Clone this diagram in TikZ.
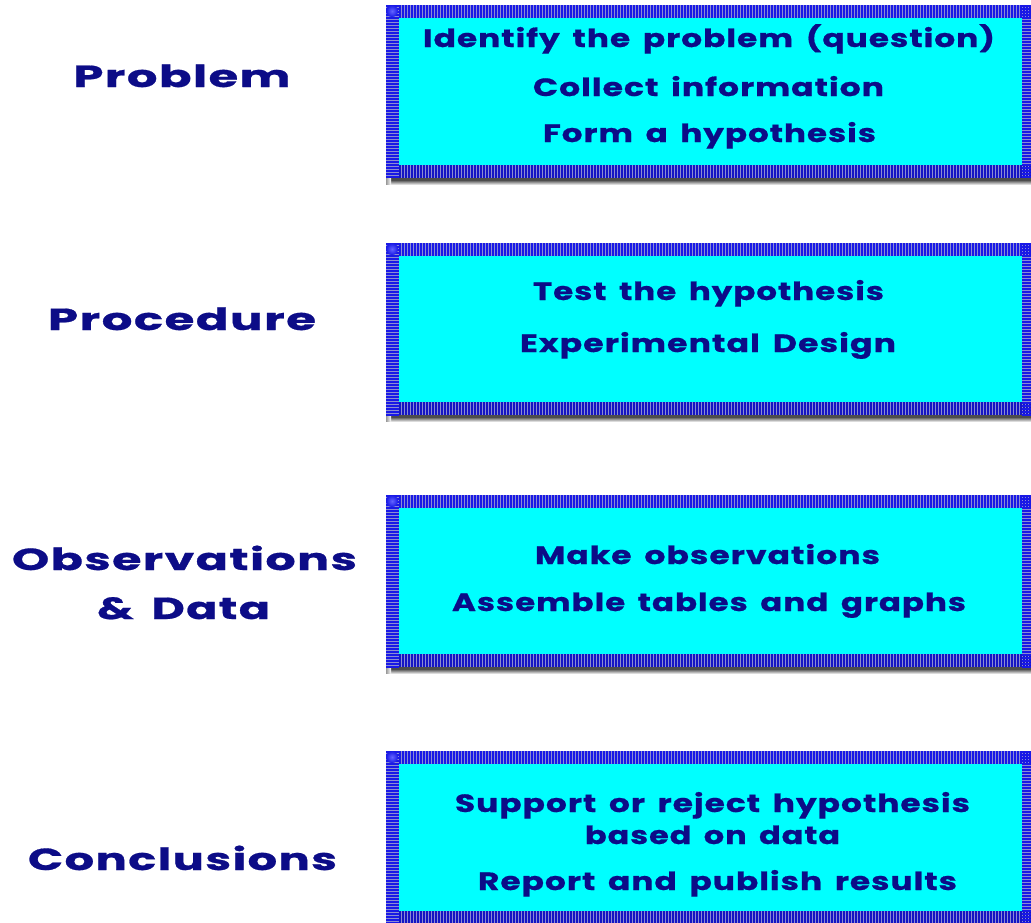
\documentclass[tikz,border=0pt]{standalone}
\usepackage{fontspec}
\usepackage{graphicx}
\setmainfont{Poppins}[LetterSpace=3,WordSpace=1.6,BoldFeatures={FakeBold=0.6}]
\definecolor{navy}{RGB}{12,12,135}
\definecolor{cyanbox}{RGB}{0,255,255}
\definecolor{stripeA}{RGB}{25,25,230}
\definecolor{stripeB}{RGB}{140,140,210}
\definecolor{hilite}{RGB}{100,100,255}
\newcommand{\fitw}[2]{\resizebox{#1}{\height}{#2}}
\newcommand{\stripebox}[2]{%
  \fill[black!70] (389,#2) rectangle (1031,#2+2);
  \shade[top color=black!70, bottom color=white] (389,#2+2) rectangle (1031,#2+7);
  \shade[left color=black!40, right color=white] (386,#2-2) rectangle (391,#2+6);
  \fill[stripeB] (386,#1) rectangle (1034,#2);
  \fill[cyanbox] (399,#1+13) rectangle (1022,#2-13);
  \foreach \x in {400,403,...,1033} {
    \draw[stripeA,line width=1.25pt] (\x,#1) -- (\x,#1+13);
    \draw[stripeA!85!black,line width=1.25pt] (\x,#2-13) -- (\x,#2);
  }
  \foreach \i in {0,...,57} {
    \draw[stripeA,line width=1.25pt] (386,#1+1+\i*3) -- (399,#1+1+\i*3);
    \draw[stripeA,line width=1.25pt] (1022,#1+1+\i*3) -- (1034,#1+1+\i*3);
  }
  \shade[inner color=hilite, outer color=stripeA] (392,#1+6) circle (6);
}
\tikzset{
  lbl/.style={font=\fontsize{30.5}{32}\selectfont\bfseries, text=navy, inner sep=0pt, anchor=base},
  txt/.style={font=\fontsize{25}{27}\selectfont\bfseries, text=navy, inner sep=0pt, anchor=base},
}
\begin{document}
\begin{tikzpicture}[x=1pt,y=-1pt]
\useasboundingbox (0,0) rectangle (1031,922);
\clip (0,0) rectangle (1031,922);
\fill[white] (0,0) rectangle (1031,922);

\stripebox{5}{178}
\stripebox{243}{415}
\stripebox{495}{667}
\stripebox{751}{924}

% left labels
\node[lbl] (lproblem) at (182,87) {\fitw{217pt}{Problem}};
\node[lbl] (lprocedure) at (182,330) {\fitw{268pt}{Procedure}};
\node[lbl] (lobs) at (184.5,570) {\fitw{345pt}{Observations}};
\node[lbl] (ldata) at (183.5,619) {\fitw{173pt}{\& Data}};
\node[lbl] (lconcl) at (182.5,870) {\fitw{309pt}{Conclusions}};

% box texts
\node[txt] (t11) at (709,47) {\fitw{572pt}{Identify the problem (question)}};
\node[txt] (t12) at (708.5,96) {\fitw{351pt}{Collect information}};
\node[txt] (t13) at (709.5,142) {\fitw{333pt}{Form a hypothesis}};
\node[txt] (t21) at (708.5,300) {\fitw{351pt}{Test the hypothesis}};
\node[txt] (t22) at (708,352) {\fitw{376pt}{Experimental Design}};
\node[txt] (t31) at (707.5,564) {\fitw{345pt}{Make observations}};
\node[txt] (t32) at (709,611) {\fitw{514pt}{Assemble tables and graphs}};
\node[txt] (t41) at (712.5,812) {\fitw{515pt}{Support or reject hypothesis}};
\node[txt] (t42) at (712.5,844) {\fitw{255pt}{based on data}};
\node[txt] (t43) at (717.5,890) {\fitw{479pt}{Report and publish results}};
\end{tikzpicture}
\end{document}
